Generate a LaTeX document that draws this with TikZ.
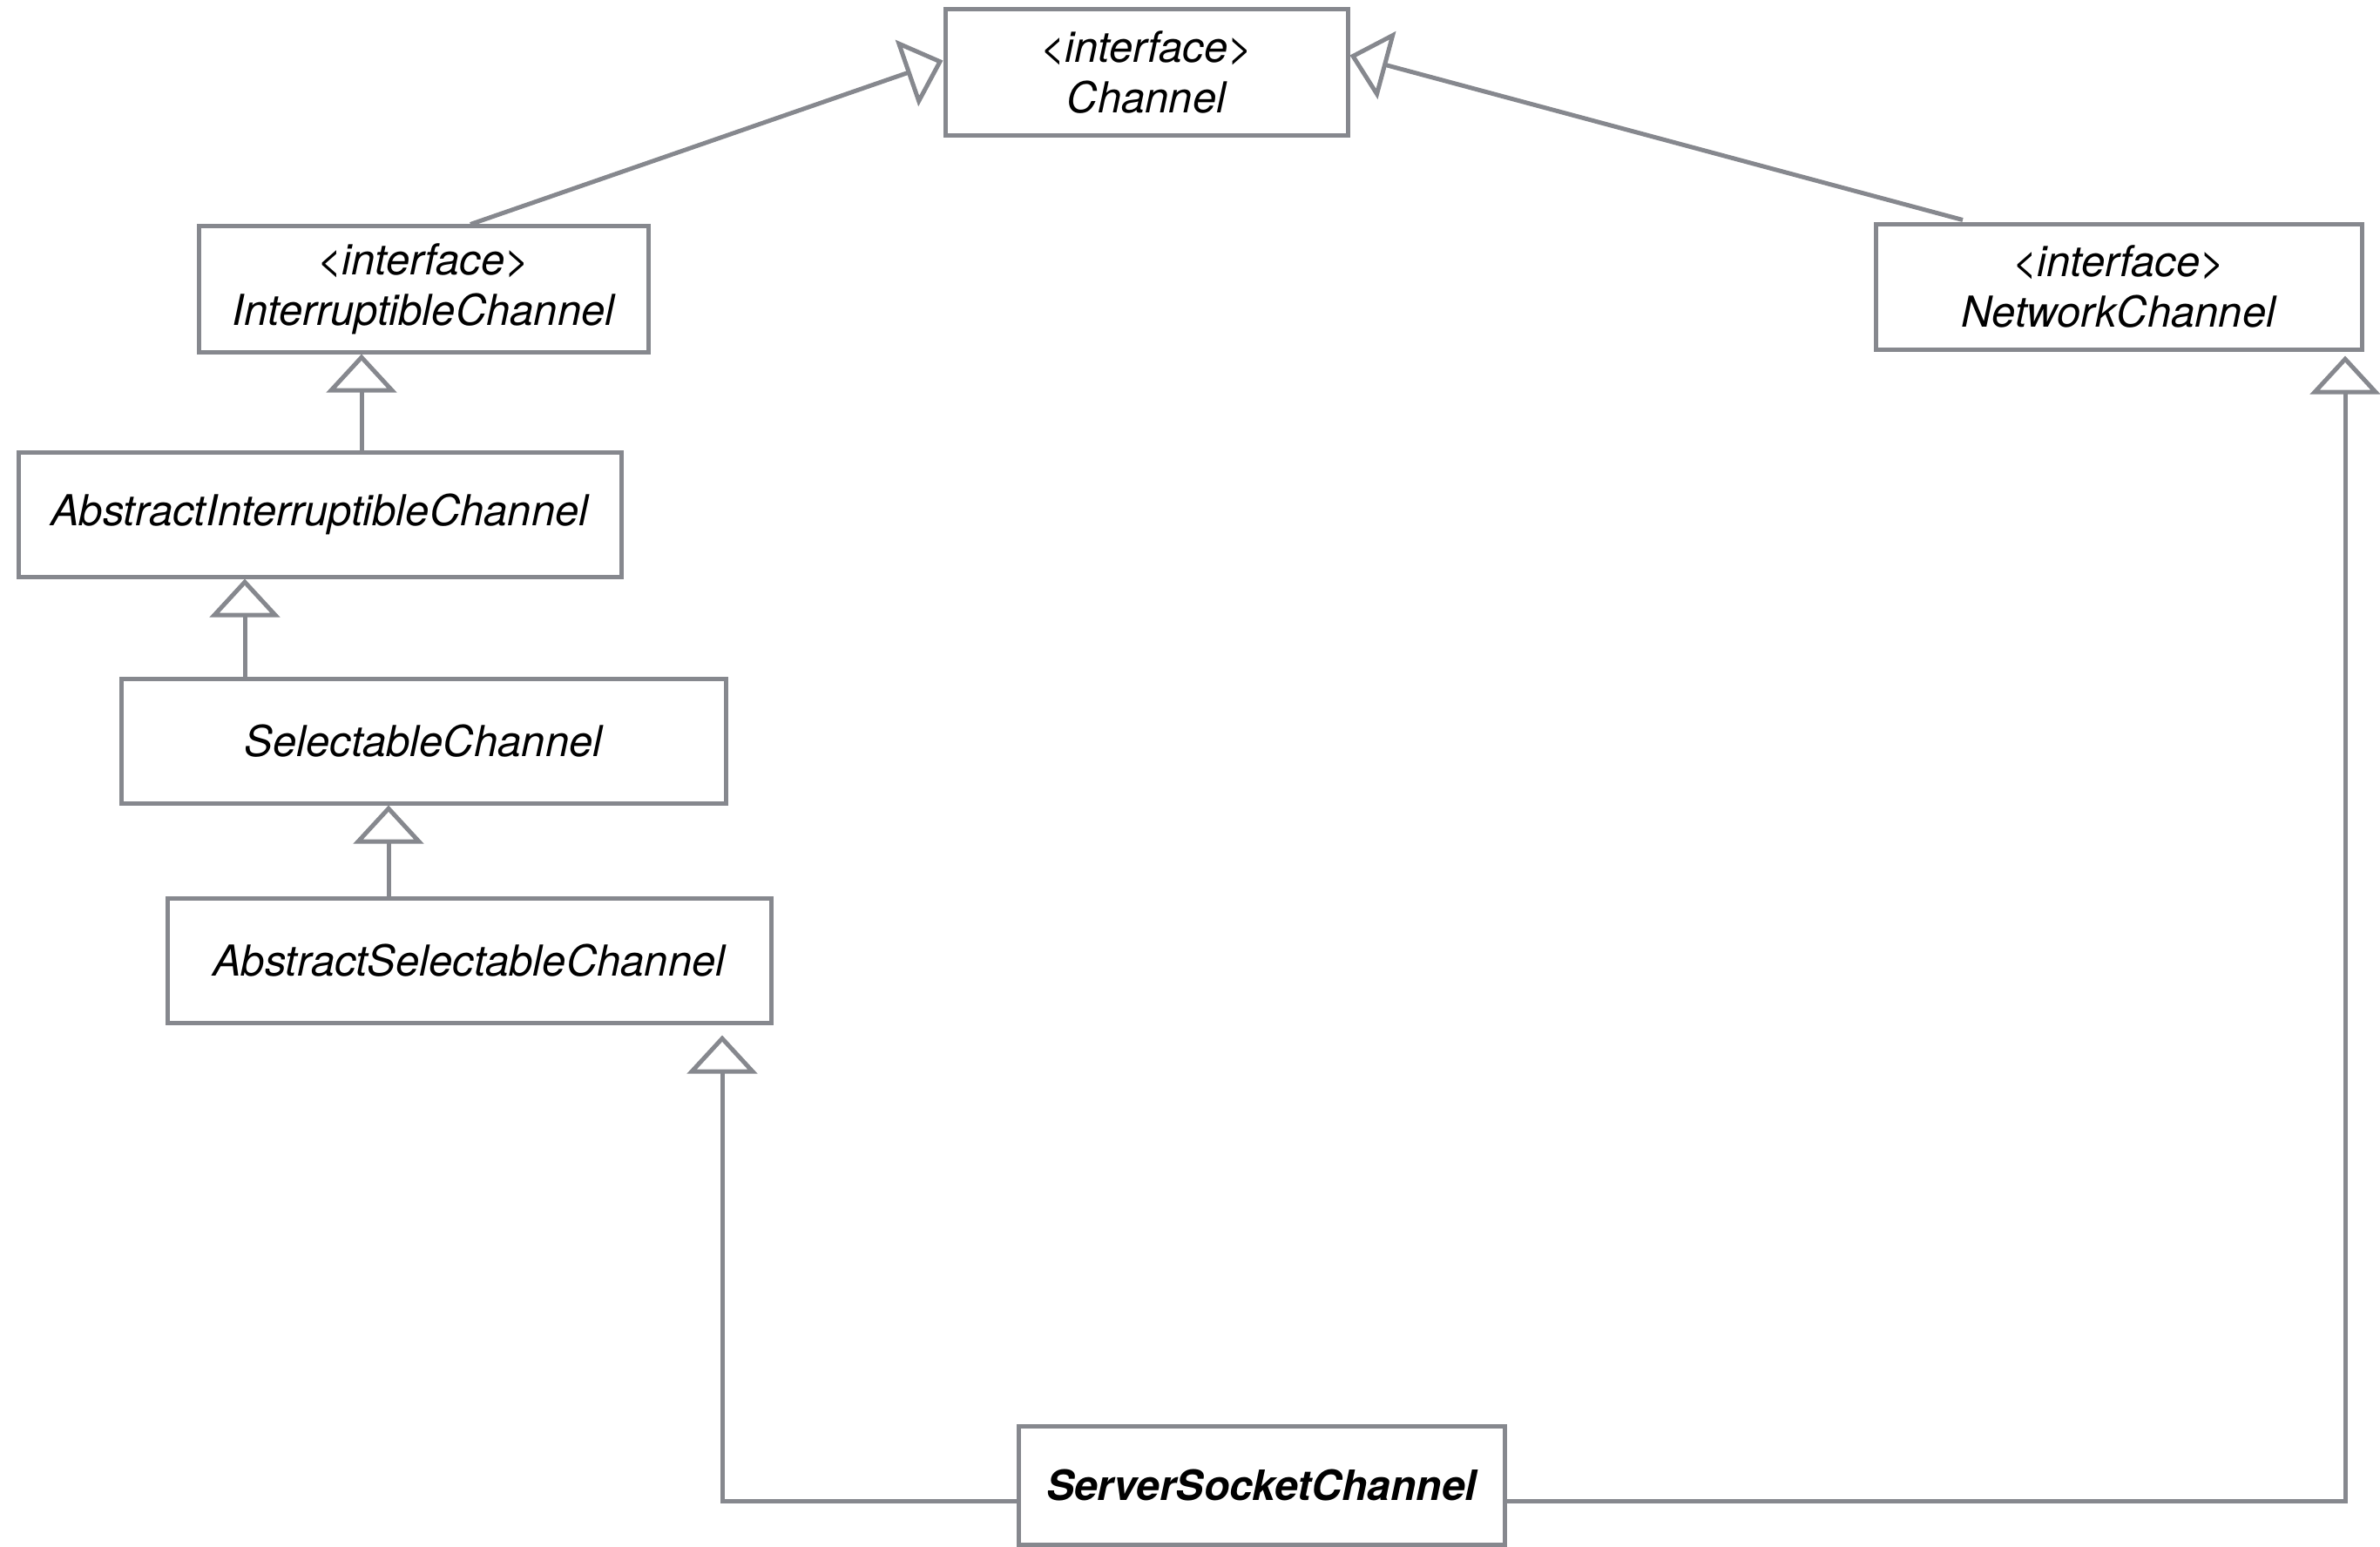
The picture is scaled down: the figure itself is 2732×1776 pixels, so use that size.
\documentclass[tikz,border=0pt]{standalone}
\usepackage{fontspec}
\setmainfont{TeX Gyre Heros}
\usetikzlibrary{arrows.meta,calc}
\definecolor{lc}{RGB}{134,136,142}
\tikzset{
  cls/.style={draw=lc, line width=2.5pt, rectangle, inner sep=0pt, align=center,
    font=\fontsize{24.5}{29}\selectfont\itshape},
  inh/.style={draw=lc, line width=2.5pt, line join=miter,
    -{Triangle[open,width=40pt,length=22pt]}},
}
\begin{document}
\begin{tikzpicture}[x=0.5pt,y=-0.5pt]
\useasboundingbox[fill=white] (0,0) rectangle (2732,1776);
% classes
\node[cls, minimum width=231pt, minimum height=72.5pt] (ch) at (1316,83.5) {\textless interface\textgreater\\Channel};
\node[cls, minimum width=258pt, minimum height=72pt] (ic) at (486,332) {\textless interface\textgreater\\InterruptibleChannel};
\node[cls, minimum width=279pt, minimum height=71.5pt] (nc) at (2432,329.5) {\textless interface\textgreater\\NetworkChannel};
\node[cls, minimum width=346pt, minimum height=71.5pt] (aic) at (367,590.5) {AbstractInterruptibleChannel};
\node[cls, minimum width=347pt, minimum height=71.5pt] (sc) at (486,850.5) {SelectableChannel};
\node[cls, minimum width=346.5pt, minimum height=71.5pt] (asc) at (538.5,1102.5) {AbstractSelectableChannel};
\node[cls, minimum width=279pt, minimum height=68pt, font=\fontsize{24}{29}\selectfont\bfseries\itshape] (ssc) at (1448,1705) {ServerSocketChannel};
% helper coordinates
\coordinate (v1) at (415,0);
\coordinate (v2) at (281,0);
\coordinate (v3) at (446,0);
\coordinate (v4) at (829,0);
\coordinate (v5) at (2692,0);
\coordinate (h1) at (0,1723);
% connectors
\draw[inh] ($(ic.north)+(54,0)$) -- ($(ch.west)+(0,-14)$);
\draw[inh] ($(nc.north)+(-179,-3)$) -- ($(ch.east)+(0,-20)$);
\draw[inh] (aic.north -| v1) -- (ic.south -| v1);
\draw[inh] (sc.north -| v2) -- (aic.south -| v2);
\draw[inh] (asc.north -| v3) -- (sc.south -| v3);
\draw[inh, shorten >=6pt] (ssc.west |- h1) -| (asc.south -| v4);
\draw[inh, shorten >=2.5pt] (ssc.east |- h1) -| (nc.south -| v5);
\end{tikzpicture}
\end{document}
